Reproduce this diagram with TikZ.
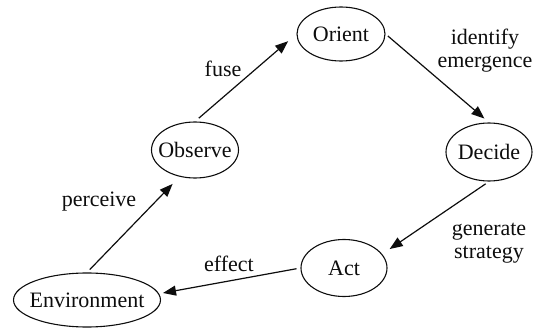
\documentclass[tikz,border=0pt]{standalone}
\usepackage{fontspec}
\setmainfont{Liberation Serif}
\usetikzlibrary{arrows.meta, shapes.geometric}
\tikzset{phase/.style = {ellipse, draw, line width=1.1pt, inner sep=0pt}}
\tikzset{flow/.style = {-{Triangle[length=13pt, width=10pt]}, line width=1.2pt}}

\begin{document}
\begin{tikzpicture}[x=1pt, y=-1pt, font=\fontsize{22}{23}\selectfont, color=black!95]
\useasboundingbox (0,0) rectangle (542,329);
\node [phase, minimum width=88pt, minimum height=54pt, label=center:Orient] (ori) at (341,34) {};
\node [phase, minimum width=87pt, minimum height=56pt, label=center:Observe] (obs) at (195,150) {};
\node [phase, minimum width=86pt, minimum height=58pt, label=center:Decide] (dec) at (489,152) {};
\node [phase, minimum width=86pt, minimum height=57pt, label=center:Act] (act) at (344,268) {};
\node [phase, minimum width=147pt, minimum height=54pt, label=center:Environment] (env) at (87,300) {};
\draw [flow, shorten <=5pt, shorten >=11pt] (obs.north) -- (ori.west);
\draw [flow, shorten <=3pt, shorten >=6pt] (ori.east) -- (dec.north);
\draw [flow, shorten <=4pt, shorten >=9pt] (dec.south) -- (act.20);
\draw [flow, shorten <=4pt, shorten >=4pt] (act.west) -- (env.5);
\draw [flow, shorten <=4pt, shorten >=10pt] (env.north) -- (obs.240);
\node [anchor=base] (fuse) at (223,77) {fuse};
\node [align=center] (idem) at (485,51) {identify\\emergence};
\node [anchor=base] (perc) at (99,207) {perceive};
\node [align=center] (gen) at (489,243) {generate\\strategy};
\node [anchor=base] (eff) at (229,272) {effect};
\end{tikzpicture}
\end{document}
